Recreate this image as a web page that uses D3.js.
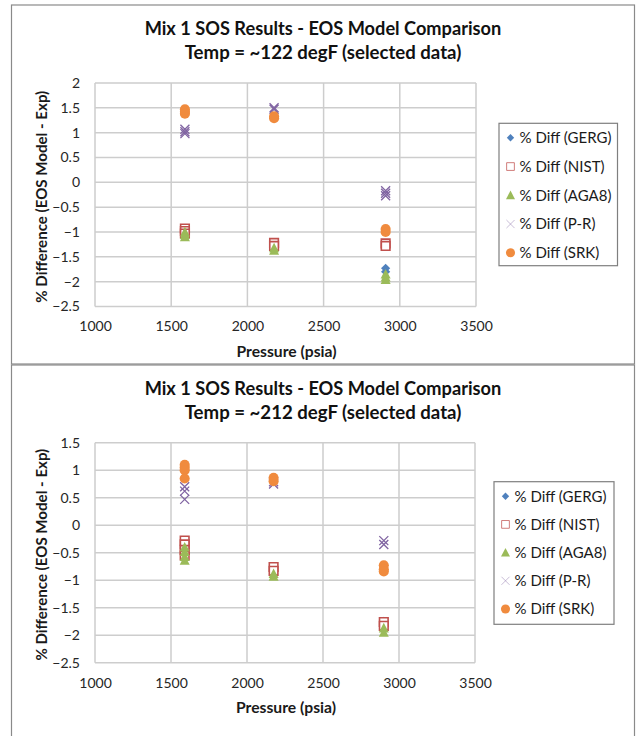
<!DOCTYPE html>
<html>
<head>
<meta charset="utf-8">
<script src="https://cdn.jsdelivr.net/npm/d3@7"></script>
<style>
  body { margin: 0; background: #fff; }
  svg { display: block; }
  text { font-family: Lato, "Open Sans", sans-serif; }
</style>
</head>
<body>
<svg id="chart" width="640" height="736"></svg>
<script>
// Series and axis labels
const seriesNames = ["% Diff (GERG)", "% Diff (NIST)", "% Diff (AGA8)", "% Diff (P-R)", "% Diff (SRK)"];
const xTickValues = [1000, 1500, 2000, 2500, 3000, 3500];
const yTicks122 = [2, 1.5, 1, 0.5, 0, -0.5, -1, -1.5, -2, -2.5];
const yTicks212 = [1.5, 1, 0.5, 0, -0.5, -1, -1.5, -2, -2.5];

// ~122 degF runs: [pressure (psia), % difference]
const gerg122 = [[1590, -0.95], [1590, -1.0], [1590, -1.04], [2175, -1.25], [2175, -1.3], [2907, -1.73], [2907, -1.8]];
const nist122 = [[1590, -0.93], [1590, -0.98], [1590, -1.03], [2175, -1.22], [2175, -1.28], [2907, -1.23], [2907, -1.28]];
const aga8122 = [[1590, -1.0], [1590, -1.05], [1590, -1.1], [2175, -1.32], [2175, -1.37], [2907, -1.85], [2907, -1.91], [2907, -1.96]];
const pr122   = [[1590, 1.07], [1590, 1.02], [1590, 0.98], [2175, 1.5], [2175, 1.47], [2907, -0.17], [2907, -0.22], [2907, -0.27]];
const srk122  = [[1590, 1.47], [1590, 1.42], [1590, 1.38], [2175, 1.33], [2175, 1.29], [2907, -0.94], [2907, -1.0]];

// ~212 degF runs: [pressure (psia), % difference]
const gerg212 = [[1590, -0.3], [1590, -0.37], [1590, -0.45], [1590, -0.52], [2175, -0.78], [2175, -0.85], [2900, -1.75], [2900, -1.82]];
const nist212 = [[1590, -0.28], [1590, -0.35], [1590, -0.45], [1590, -0.55], [2175, -0.76], [2175, -0.83], [2900, -1.76], [2900, -1.83]];
const aga8212 = [[1590, -0.4], [1590, -0.48], [1590, -0.57], [1590, -0.64], [2175, -0.88], [2175, -0.93], [2900, -1.87], [2900, -1.95]];
const pr212   = [[1590, 0.7], [1590, 0.62], [1590, 0.47], [2175, 0.79], [2175, 0.75], [2900, -0.28], [2900, -0.35]];
const srk212  = [[1590, 1.1], [1590, 1.05], [1590, 1.0], [1590, 0.85], [2175, 0.86], [2175, 0.8], [2900, -0.73], [2900, -0.8], [2900, -0.84]];

// Marker styles, in series order
const markerStyles = [
  { shape: "diamond",  fill: "#4F81BD", stroke: "none" },
  { shape: "square",   fill: "#fff",    stroke: "#C0504D" },
  { shape: "triangle", fill: "#9BBB59", stroke: "none" },
  { shape: "x",        fill: "none",    stroke: "#8064A2" },
  { shape: "circle",   fill: "#F08B3E", stroke: "none" }
];

function markerPath(shape) {
  switch (shape) {
    case "diamond":  return "M0,-4.6L4.6,0L0,4.6L-4.6,0Z";
    case "square":   return "M-4.3,-4.3H4.3V4.3H-4.3Z";
    case "triangle": return "M0,-5.2L5,4.4H-5Z";
    case "x":        return "M-4.5,-4.5L4.5,4.5M4.5,-4.5L-4.5,4.5";
    default:         return d3.symbol(d3.symbolCircle, 80)();
  }
}

const svg = d3.select("#chart");

// Shrink or grow a text's font so that it spans the given width
function fitWidth(sel, width) {
  const node = sel.node();
  const size = parseFloat(sel.attr("font-size"));
  const w = node.getComputedTextLength();
  if (w > 0) sel.attr("font-size", (size * width / w).toFixed(2));
  return sel;
}

function drawChart(cfg) {
  const g = svg.append("g");

  // outer chart frame
  g.append("rect")
    .attr("x", 11.5).attr("y", cfg.frameTop)
    .attr("width", 623).attr("height", cfg.frameHeight)
    .attr("fill", "none").attr("stroke", "#8a8a8a").attr("stroke-width", 1.2);

  const x = d3.scaleLinear().domain([1000, 3500]).range([95, cfg.plotRight]);
  const y = d3.scaleLinear().domain([d3.min(cfg.yTicks), d3.max(cfg.yTicks)]).range([cfg.plotBottom, cfg.plotTop]);

  // gridlines
  const grid = g.append("g").attr("stroke", "#cdcdcd").attr("stroke-width", 1.5);
  grid.selectAll("line.h").data(cfg.yTicks).join("line")
    .attr("x1", x(1000)).attr("x2", x(3500))
    .attr("y1", d => y(d)).attr("y2", d => y(d));
  grid.selectAll("line.v").data(xTickValues).join("line")
    .attr("x1", d => x(d)).attr("x2", d => x(d))
    .attr("y1", y.range()[0]).attr("y2", y.range()[1]);

  // axes (labels only, Excel-style: no tick marks)
  const yAxis = d3.axisLeft(y).tickValues(cfg.yTicks).tickSize(0).tickPadding(15).tickFormat(d3.format("~g"));
  const xAxis = d3.axisBottom(x).tickValues(xTickValues).tickSize(0).tickPadding(15).tickFormat(d3.format("d"));
  const ya = g.append("g").attr("transform", `translate(${x(1000)},0)`).call(yAxis);
  const xa = g.append("g").attr("transform", `translate(0,${cfg.plotBottom})`).call(xAxis);
  [ya, xa].forEach(a => {
    a.select(".domain").remove();
    a.selectAll("text").attr("font-size", 14).attr("fill", "#262626")
      .attr("font-family", "Lato, 'Open Sans', sans-serif");
  });

  // titles
  const cx = 323;
  fitWidth(g.append("text").attr("x", cx).attr("y", cfg.frameTop + 30)
    .attr("text-anchor", "middle").attr("font-weight", "bold").attr("font-size", 16)
    .attr("fill", "#111").text("Mix 1 SOS Results - EOS Model Comparison"), 357);
  fitWidth(g.append("text").attr("x", cx).attr("y", cfg.frameTop + 54)
    .attr("text-anchor", "middle").attr("font-weight", "bold").attr("font-size", 16)
    .attr("fill", "#111").text(cfg.subtitle), 277);

  // axis titles
  const yMid = (cfg.plotTop + cfg.plotBottom) / 2 + 2;
  fitWidth(g.append("text").attr("transform", `translate(47,${yMid}) rotate(-90)`)
    .attr("text-anchor", "middle").attr("font-weight", "bold").attr("font-size", 13)
    .attr("fill", "#1a1a1a").text("% Difference (EOS Model - Exp)"), 212);
  fitWidth(g.append("text").attr("x", (x(1000) + x(3500)) / 2 + 1).attr("y", cfg.plotBottom + 50)
    .attr("text-anchor", "middle").attr("font-weight", "bold").attr("font-size", 13)
    .attr("fill", "#1a1a1a").text("Pressure (psia)"), 100);

  // data points, later series drawn on top
  cfg.series.forEach((pts, i) => {
    const st = markerStyles[i];
    g.append("g").selectAll("path").data(pts).join("path")
      .attr("transform", d => `translate(${x(d[0])},${y(d[1])})`)
      .attr("d", markerPath(st.shape))
      .attr("fill", st.fill)
      .attr("stroke", st.stroke)
      .attr("stroke-width", st.shape === "x" ? 1.3 : 1.6);
  });

  // legend
  const lg = g.append("g");
  lg.append("rect")
    .attr("x", cfg.legend.x).attr("y", cfg.legend.y)
    .attr("width", cfg.legend.w).attr("height", cfg.legend.h)
    .attr("fill", "#fff").attr("stroke", "#7f7f7f").attr("stroke-width", 1.2);
  const rows = lg.selectAll("g.row").data(seriesNames).join("g")
    .attr("transform", (d, i) => `translate(${cfg.legend.x + 11.5},${cfg.legend.y + 14.5 + i * cfg.legend.step})`);
  rows.append("path")
    .attr("d", (d, i) => markerPath(markerStyles[i].shape))
    .attr("transform", (d, i) => i === 0 ? "scale(0.8)" : "scale(0.9)")
    .attr("fill", (d, i) => markerStyles[i].fill)
    .attr("stroke", (d, i) => markerStyles[i].stroke)
    .attr("stroke-width", (d, i) => i === 3 ? 0.8 : 1.1)
    .attr("stroke-opacity", (d, i) => i === 3 ? 0.6 : 0.75);
  rows.append("text").attr("x", 9).attr("dy", "0.36em")
    .attr("font-size", 14).attr("fill", "#1a1a1a")
    .text(d => d)
    .each(function () { const s = d3.select(this); const w = this.getComputedTextLength(); s.attr("font-size", 14); });
  // common legend font size so "% Diff (GERG)" spans its measured width
  const first = rows.select("text").node();
  const fs = (14 * 92 / first.getComputedTextLength()).toFixed(2);
  rows.selectAll("text").attr("font-size", fs);
}

drawChart({
  frameTop: 5, frameHeight: 359,
  subtitle: "Temp = ~122 degF (selected data)",
  yTicks: yTicks122,
  plotTop: 83, plotBottom: 306.5, plotRight: 476,
  series: [gerg122, nist122, aga8122, pr122, srk122],
  legend: { x: 499, y: 123.3, w: 118.5, h: 142.4, step: 28.75 }
});

drawChart({
  frameTop: 365, frameHeight: 380,
  subtitle: "Temp = ~212 degF (selected data)",
  yTicks: yTicks212,
  plotTop: 442.7, plotBottom: 662.7, plotRight: 475,
  series: [gerg212, nist212, aga8212, pr212, srk212],
  legend: { x: 494, y: 481.7, w: 120, h: 142.6, step: 28.2 }
});
</script>
</body>
</html>
